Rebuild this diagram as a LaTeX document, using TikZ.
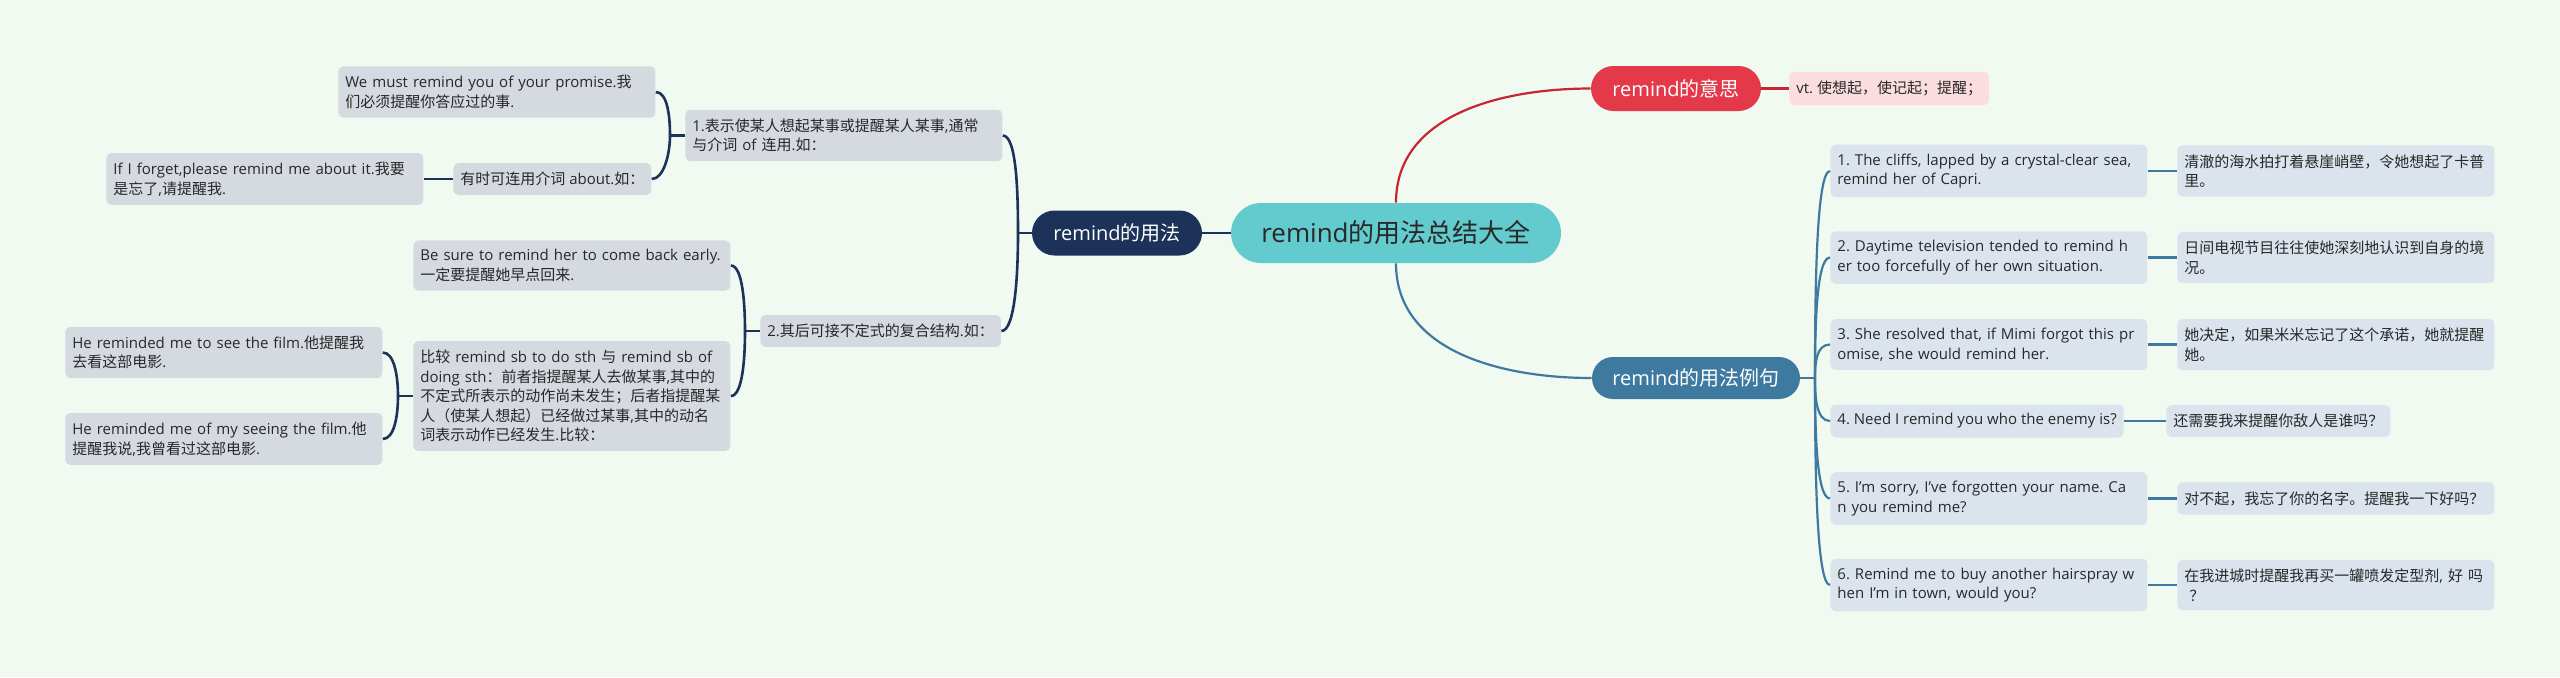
\documentclass[tikz,border=0pt]{standalone}
\usepackage{fontspec}
\setmainfont{Open Sans}
\newfontfamily\cjkfont{Noto Sans CJK SC}
\definecolor{remindBg}{RGB}{241,250,240}
\definecolor{remindTeal}{RGB}{99,203,205}
\definecolor{remindNavy}{RGB}{28,50,88}
\definecolor{remindRed}{RGB}{228,57,73}
\definecolor{remindRedLine}{RGB}{200,36,52}
\definecolor{remindPink}{RGB}{252,221,223}
\definecolor{remindSteel}{RGB}{62,122,160}
\definecolor{remindGrey}{RGB}{213,217,224}
\definecolor{remindMist}{RGB}{219,228,237}
\definecolor{remindText}{RGB}{40,40,40}
% CJK runs switch to the CJK font, everything else stays Latin
\chardef\cjkcls=10
\newcount\cjkcode
\def\setcharcls#1#2#3{\cjkcode=#2\relax
  \loop\XeTeXcharclass\cjkcode=#1\relax
  \advance\cjkcode by 1\relax
  \ifnum\cjkcode<#3\relax\repeat}
\setcharcls{0}{"20}{"3000}
\setcharcls{\cjkcls}{"3000}{"3040}
\setcharcls{\cjkcls}{"4E00}{"A000}
\setcharcls{\cjkcls}{"FF00}{"FFF0}
\XeTeXinterchartoks 0 \cjkcls = {\cjkfont}
\XeTeXinterchartoks 4095 \cjkcls = {\cjkfont}
\XeTeXinterchartoks \cjkcls 0 = {\rmfamily}
\XeTeXinterchartoks \cjkcls 4095 = {\rmfamily}
\XeTeXinterchartokenstate=1
\usepackage{tikz}
\frenchspacing

\begin{document}
\begin{tikzpicture}[x=0.5pt, y=-0.5pt,
  leaf/.style={anchor=west, rounded corners=2.5pt, align=left, text=remindText,
               font=\fontsize{7.5pt}{9.75pt}\selectfont, inner xsep=3.5pt, inner ysep=4.5pt},
  wide/.style={text width=151.5pt},
  lbox/.style={leaf, fill=remindGrey},
  rbox/.style={leaf, fill=remindMist},
  branch/.style={text=white, font=\fontsize{10pt}{12pt}\selectfont, minimum width=85pt,
                 minimum height=22.5pt, rounded corners=11.25pt, inner sep=0pt},
  navyline/.style={draw=remindNavy, line width=1.3pt},
  redline/.style={draw=remindRedLine, line width=1.1pt},
  steelline/.style={draw=remindSteel, line width=1.1pt}
]
  \fill[remindBg] (0,0) rectangle (2560,677);
  \useasboundingbox (0,0) rectangle (2560,677);

  \node[fill=remindTeal, text=remindText, font=\fontsize{13pt}{15pt}\selectfont,
        minimum width=165pt, minimum height=30pt, rounded corners=15pt, inner sep=0pt]
        (root) at (1396,233) {remind的用法总结大全};
  \node[branch, fill=remindNavy] (usage) at (1117,233) {remind的用法};
  \node[branch, fill=remindRed] (meaning) at (1676,88.5) {remind的意思};
  \node[branch, fill=remindSteel, minimum width=104pt, minimum height=21pt,
        rounded corners=10.5pt] (examples) at (1696,378) {remind的用法例句};

  \node[leaf, fill=remindPink] (mean) at (1789,88.5) {vt. 使想起，使记起；提醒；};

  \node[lbox, wide] (u1) at (685,135.5) {1.表示使某人想起某事或提醒某人某事,通常\\与介词 of 连用.如：};
  \node[lbox, wide] (u1a) at (338,92) {We must remind you of your promise.我\\们必须提醒你答应过的事.};
  \node[lbox] (u1b) at (453,179) {有时可连用介词 about.如：};
  \node[lbox, wide] (u1b1) at (106,179) {If I forget,please remind me about it.我要\\是忘了,请提醒我.};
  \node[lbox] (u2) at (760,331) {2.其后可接不定式的复合结构.如：};
  \node[lbox, wide] (u2a) at (413,265.5) {Be sure to remind her to come back early.\\一定要提醒她早点回来.};
  \node[lbox, wide] (u2b) at (413,396) {比较 remind sb to do sth 与 remind sb of\\doing sth：前者指提醒某人去做某事,其中的\\不定式所表示的动作尚未发生；后者指提醒某\\人（使某人想起）已经做过某事,其中的动名\\词表示动作已经发生.比较：};
  \node[lbox, wide] (u2b1) at (65,352.5) {He reminded me to see the film.他提醒我\\去看这部电影.};
  \node[lbox, wide] (u2b2) at (65,439) {He reminded me of my seeing the film.他\\提醒我说,我曾看过这部电影.};

  \node[rbox, wide] (e1) at (1830,171) {1. The cliffs, lapped by a crystal-clear sea,\\remind her of Capri.};
  \node[rbox, wide] (c1) at (2177,171) {清澈的海水拍打着悬崖峭壁，令她想起了卡普\\里。};
  \node[rbox, wide] (e2) at (1830,257.5) {2. Daytime television tended to remind h\\er too forcefully of her own situation.};
  \node[rbox, wide] (c2) at (2177,257.5) {日间电视节目往往使她深刻地认识到自身的境\\况。};
  \node[rbox, wide] (e3) at (1830,344.5) {3. She resolved that, if Mimi forgot this pr\\omise, she would remind her.};
  \node[rbox, wide] (c3) at (2177,344.5) {她决定，如果米米忘记了这个承诺，她就提醒\\她。};
  \node[rbox] (e4) at (1830,421) {4. Need I remind you who the enemy is?};
  \node[rbox] (c4) at (2166,421) {还需要我来提醒你敌人是谁吗？};
  \node[rbox, wide] (e5) at (1830,498.5) {5. I'm sorry, I've forgotten your name. Ca\\n you remind me?};
  \node[rbox, wide] (c5) at (2177,498.5) {对不起，我忘了你的名字。提醒我一下好吗？};
  \node[rbox, wide] (e6) at (1830,585) {6. Remind me to buy another hairspray w\\hen I'm in town, would you?};
  \node[rbox, wide] (c6) at (2177,585) {在我进城时提醒我再买一罐喷发定型剂, 好 吗\\\hspace*{2.5pt}？};

  \coordinate (usage-hub) at (1018,233);
  \coordinate (u1-hub) at (670,135.5);
  \coordinate (u2-hub) at (745,331);
  \coordinate (u2b-hub) at (398,396);
  \coordinate (ex-hub) at (1815,378);

  \draw[navyline] (root.west) -- (usage.east);
  \draw[redline] (root.north) to[out=90, in=180] (meaning.west);
  \draw[redline] (meaning.east) -- (mean.west);
  \draw[steelline] (root.south) to[out=-90, in=180] (examples.west);

  \draw[navyline] (usage.west) -- (usage-hub);
  \draw[navyline] (usage-hub) to[out=90, in=0, in distance=7pt] (u1.east);
  \draw[navyline] (usage-hub) to[out=-90, in=0, in distance=7pt] (u2.east);
  \draw[navyline] (u1.west) -- (u1-hub);
  \draw[navyline] (u1-hub) to[out=90, in=0, in distance=6pt] (u1a.east);
  \draw[navyline] (u1-hub) to[out=-90, in=0, in distance=6pt] (u1b.east);
  \draw[navyline] (u1b.west) -- (u1b1.east);
  \draw[navyline] (u2.west) -- (u2-hub);
  \draw[navyline] (u2-hub) to[out=90, in=0, in distance=6pt] (u2a.east);
  \draw[navyline] (u2-hub) to[out=-90, in=0, in distance=6pt] (u2b.east);
  \draw[navyline] (u2b.west) -- (u2b-hub);
  \draw[navyline] (u2b-hub) to[out=90, in=0, in distance=6pt] (u2b1.east);
  \draw[navyline] (u2b-hub) to[out=-90, in=0, in distance=6pt] (u2b2.east);

  \draw[steelline] (examples.east) -- (ex-hub);
  \foreach \i/\dir in {1/90, 2/90, 3/90, 4/-90, 5/-90, 6/-90}
    \draw[steelline] (ex-hub) to[out=\dir, in=180, in distance=7pt] (e\i.west);
  \foreach \i in {1,...,6}
    \draw[steelline] (e\i.east) -- (c\i.west);
\end{tikzpicture}
\end{document}
